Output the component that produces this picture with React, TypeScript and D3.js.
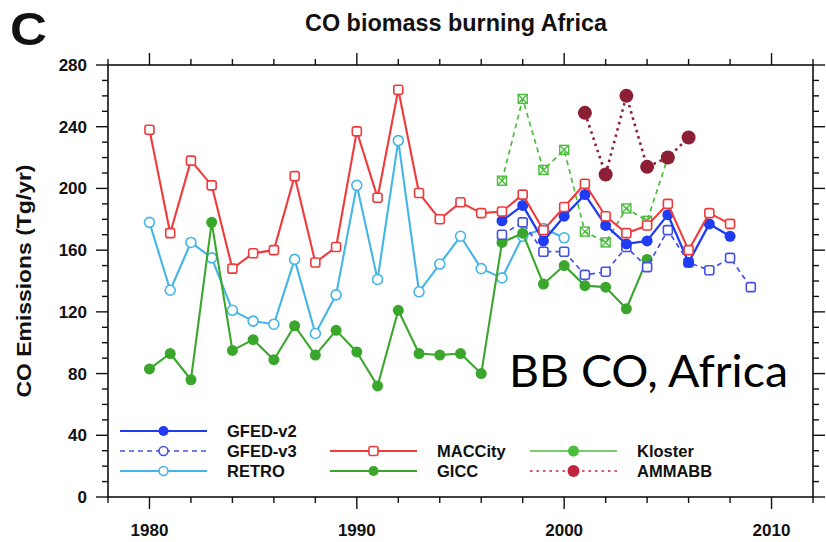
import React from "react";
import * as d3 from "d3";

// Annual CO emissions from biomass burning in Africa (Tg/yr)
const yearsMACCity = d3.range(1980, 2009);
const valuesMACCity = [238, 171, 218, 202, 148, 158, 160, 208, 152, 162, 237, 194, 264, 197, 180, 191, 184, 185, 196, 173, 188, 203, 182, 171, 176, 190, 160, 184, 177];

const yearsRETRO = d3.range(1980, 2001);
const valuesRETRO = [178, 134, 165, 155, 121, 114, 112, 154, 106, 131, 202, 141, 231, 133, 151, 169, 148, 142, 169, 174, 168];

const yearsGICC = d3.range(1980, 2005);
const valuesGICC = [83, 93, 76, 178, 95, 102, 89, 111, 92, 108, 94, 72, 121, 93, 92, 93, 80, 165, 171, 138, 150, 137, 136, 122, 154];

const yearsGFEDv2 = d3.range(1997, 2009);
const valuesGFEDv2 = [179, 189, 166, 182, 196, 176, 164, 166, 183, 152, 177, 169];

const yearsGFEDv3 = d3.range(1997, 2010);
const valuesGFEDv3 = [170, 178, 159, 159, 144, 146, 162, 149, 173, 152, 147, 155, 136];

const yearsKloster = d3.range(1997, 2006);
const valuesKloster = [205, 258, 212, 225, 172, 165, 187, 179, 220];

const yearsAMMABB = d3.range(2001, 2007);
const valuesAMMABB = [249, 209, 260, 214, 220, 233];

const xMajorTicks = [1980, 1990, 2000, 2010];
const yMajorTicks = [0, 40, 80, 120, 160, 200, 240, 280];

type Marker = "filledCircle" | "openCircle" | "openSquare" | "crossSquare";

interface Series {
  name: string;
  years: number[];
  values: number[];
  color: string;
  width: number;
  dash?: string;
  marker: Marker;
  size: number;
}

const seriesGFEDv2: Series = { name: "GFED-v2", years: yearsGFEDv2, values: valuesGFEDv2, color: "#1f3cf2", width: 2.3, marker: "filledCircle", size: 5.5 };
const seriesGFEDv3: Series = { name: "GFED-v3", years: yearsGFEDv3, values: valuesGFEDv3, color: "#4450e6", width: 1.7, dash: "5,4", marker: "openSquare", size: 4.5 };
const seriesRETRO: Series = { name: "RETRO", years: yearsRETRO, values: valuesRETRO, color: "#45b4e6", width: 2.1, marker: "openCircle", size: 5 };
const seriesMACCity: Series = { name: "MACCity", years: yearsMACCity, values: valuesMACCity, color: "#f03a3c", width: 2.1, marker: "openSquare", size: 4.5 };
const seriesGICC: Series = { name: "GICC", years: yearsGICC, values: valuesGICC, color: "#3aa72c", width: 2.1, marker: "filledCircle", size: 5.5 };
const seriesKloster: Series = { name: "Kloster", years: yearsKloster, values: valuesKloster, color: "#4dbd3e", width: 1.7, dash: "5,4", marker: "crossSquare", size: 4.5 };
const seriesAMMABB: Series = { name: "AMMABB", years: yearsAMMABB, values: valuesAMMABB, color: "#8c1f36", width: 2.6, dash: "2.5,4", marker: "filledCircle", size: 7 };

const drawOrder = [seriesRETRO, seriesGICC, seriesKloster, seriesGFEDv3, seriesGFEDv2, seriesMACCity, seriesAMMABB];

const W = 826;
const H = 542;
const plot = { left: 108, right: 813, top: 65, bottom: 497 };

const x = d3.scaleLinear().domain([1978, 2012]).range([plot.left, plot.right]);
const y = d3.scaleLinear().domain([0, 280]).range([plot.bottom, plot.top]);

const axisFont = "'Liberation Sans', Arial, Helvetica, sans-serif";

function MarkerShape({ type, cx, cy, size, color }: { type: Marker; cx: number; cy: number; size: number; color: string }) {
  if (type === "filledCircle") return <circle cx={cx} cy={cy} r={size} fill={color} />;
  if (type === "openCircle") return <circle cx={cx} cy={cy} r={size} fill="white" stroke={color} strokeWidth={1.6} />;
  if (type === "openSquare")
    return <rect x={cx - size} y={cy - size} width={size * 2} height={size * 2} rx={2} fill="white" stroke={color} strokeWidth={1.6} />;
  return (
    <g stroke={color} strokeWidth={1.4} fill="none">
      <rect x={cx - size} y={cy - size} width={size * 2} height={size * 2} />
      <line x1={cx - size} y1={cy - size} x2={cx + size} y2={cy + size} />
      <line x1={cx + size} y1={cy - size} x2={cx - size} y2={cy + size} />
    </g>
  );
}

function SeriesPath({ s }: { s: Series }) {
  const pts: [number, number][] = s.years.map((yr, i) => [x(yr), y(s.values[i])]);
  const path = d3.line()(pts) || "";
  return (
    <g>
      <path d={path} fill="none" stroke={s.color} strokeWidth={s.width} strokeDasharray={s.dash} strokeLinejoin="round" strokeLinecap={s.dash ? "butt" : "round"} />
      {pts.map(([px, py], i) => (
        <MarkerShape key={i} type={s.marker} cx={px} cy={py} size={s.size} color={s.color} />
      ))}
    </g>
  );
}

function LegendItem({ s, lx, ly, legendMarker, legendSize, legendWidth }: { s: Series; lx: number; ly: number; legendMarker?: Marker; legendSize?: number; legendWidth?: number }) {
  const x1 = lx;
  const x2 = lx + 87;
  const cx = (x1 + x2) / 2;
  return (
    <g>
      <line x1={x1} y1={ly} x2={x2} y2={ly} stroke={s.color} strokeWidth={legendWidth ?? Math.min(s.width, 1.8)} strokeDasharray={s.dash} />
      <MarkerShape type={legendMarker ?? s.marker} cx={cx} cy={ly} size={legendSize ?? s.size - 0.5} color={s.color} />
      <text x={x2 + 20} y={ly + 6} fontFamily={axisFont} fontWeight="bold" fontSize={16.5} fill="#111">
        {s.name}
      </text>
    </g>
  );
}

export default function App() {
  const xMinor = d3.range(1978, 2013, 2).filter((v) => !xMajorTicks.includes(v));
  const yMinor = d3.range(0, 281, 10).filter((v) => !yMajorTicks.includes(v));
  const majorLen = 12;
  const minorLen = 6;

  return (
    <svg width={W} height={H} style={{ position: "absolute", left: 0, top: 0, background: "white" }}>
      <rect x={0} y={0} width={W} height={H} fill="white" />

      {/* panel letter and title */}
      <text x={10} y={45} fontFamily={axisFont} fontWeight="bold" fontSize={46} textLength={37} lengthAdjust="spacingAndGlyphs" fill="#111">
        C
      </text>
      <text x={456} y={31} textAnchor="middle" fontFamily={axisFont} fontWeight="bold" fontSize={24} textLength={302} lengthAdjust="spacingAndGlyphs" fill="#111">
        CO biomass burning Africa
      </text>

      {/* data */}
      <defs>
        <clipPath id="plotClip">
          <rect x={plot.left} y={plot.top - 10} width={plot.right - plot.left} height={plot.bottom - plot.top + 10} />
        </clipPath>
      </defs>
      <g clipPath="url(#plotClip)">
        {drawOrder.map((s) => (
          <SeriesPath key={s.name} s={s} />
        ))}
      </g>

      {/* frame */}
      <rect x={plot.left} y={plot.top} width={plot.right - plot.left} height={plot.bottom - plot.top} fill="none" stroke="#111" strokeWidth={1.6} />

      {/* x ticks (bottom and top) and y ticks (left and right) */}
      <g stroke="#111" strokeWidth={1.4}>
        {xMajorTicks.map((v) => (
          <g key={"xm" + v}>
            <line x1={x(v)} x2={x(v)} y1={plot.bottom} y2={plot.bottom + majorLen} />
            <line x1={x(v)} x2={x(v)} y1={plot.top} y2={plot.top - majorLen} />
          </g>
        ))}
        {xMinor.map((v) => (
          <g key={"xn" + v}>
            <line x1={x(v)} x2={x(v)} y1={plot.bottom} y2={plot.bottom + minorLen} />
            <line x1={x(v)} x2={x(v)} y1={plot.top} y2={plot.top - minorLen} />
          </g>
        ))}
        {yMajorTicks.map((v) => (
          <g key={"ym" + v}>
            <line x1={plot.left} x2={plot.left - majorLen} y1={y(v)} y2={y(v)} />
            <line x1={plot.right} x2={plot.right + majorLen} y1={y(v)} y2={y(v)} />
          </g>
        ))}
        {yMinor.map((v) => (
          <g key={"yn" + v}>
            <line x1={plot.left} x2={plot.left - minorLen} y1={y(v)} y2={y(v)} />
            <line x1={plot.right} x2={plot.right + minorLen} y1={y(v)} y2={y(v)} />
          </g>
        ))}
      </g>

      {/* tick labels */}
      {xMajorTicks.map((v) => (
        <text key={"xl" + v} x={x(v)} y={536} textAnchor="middle" fontFamily={axisFont} fontWeight="bold" fontSize={17} fill="#111">
          {v}
        </text>
      ))}
      {yMajorTicks.map((v) => (
        <text key={"yl" + v} x={87} y={y(v) + 6} textAnchor="end" fontFamily={axisFont} fontWeight="bold" fontSize={17} fill="#111">
          {v}
        </text>
      ))}

      {/* y axis title */}
      <text transform={`translate(31, ${(plot.top + plot.bottom) / 2}) rotate(-90)`} textAnchor="middle" fontFamily={axisFont} fontWeight="bold" fontSize={21} textLength={233} lengthAdjust="spacingAndGlyphs" fill="#111">
        CO Emissions (Tg/yr)
      </text>

      {/* legend */}
      <LegendItem s={seriesGFEDv2} lx={120} ly={431} legendSize={5} />
      <LegendItem s={seriesGFEDv3} lx={120} ly={451} legendMarker="openCircle" legendSize={4.5} />
      <LegendItem s={seriesRETRO} lx={120} ly={471} legendSize={4.5} />
      <LegendItem s={seriesMACCity} lx={330} ly={451} legendSize={4.5} />
      <LegendItem s={seriesGICC} lx={330} ly={471} legendSize={5} />
      <LegendItem s={{ ...seriesKloster, dash: undefined }} lx={530} ly={451} legendMarker="filledCircle" legendSize={5.5} legendWidth={1.3} />
      <LegendItem s={{ ...seriesAMMABB, color: "#c0243e" }} lx={530} ly={471} legendSize={6} legendWidth={1.6} />

      {/* annotation */}
      <text x={509} y={387} fontFamily="Lato, 'Open Sans', 'Noto Sans', sans-serif" fontSize={44} textLength={279} lengthAdjust="spacingAndGlyphs" fill="#000">
        BB CO, Africa
      </text>
    </svg>
  );
}
